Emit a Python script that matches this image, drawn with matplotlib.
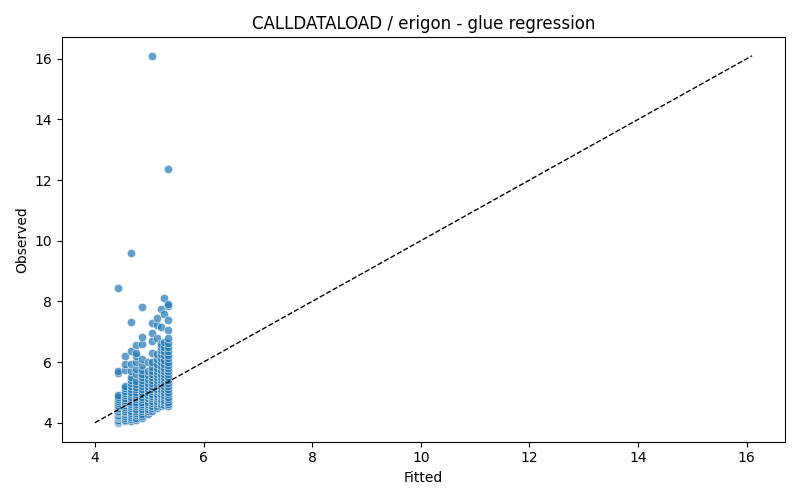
import numpy as np
import matplotlib
matplotlib.use('Agg')
import matplotlib.pyplot as plt

fitted_levels = [4.42, 4.55, 4.66, 4.75, 4.87, 4.97, 5.05, 5.15, 5.22, 5.28, 5.35]
observed_by_level = [
	[3.98, 4.02, 4.06, 4.1, 4.14, 4.18, 4.22, 4.27, 4.31, 4.36, 4.4, 4.45, 4.5, 4.55, 4.6, 4.66, 4.72, 4.78, 4.85, 4.92, 5.65, 5.72, 8.45],
	[4.05, 4.1, 4.16, 4.22, 4.28, 4.34, 4.4, 4.46, 4.52, 4.58, 4.64, 4.7, 4.76, 4.82, 4.9, 4.98, 5.06, 5.14, 5.2, 5.75, 5.95, 6.2],
	[4.05, 4.12, 4.18, 4.25, 4.32, 4.4, 4.47, 4.55, 4.62, 4.7, 4.78, 4.86, 4.94, 5.02, 5.1, 5.2, 5.3, 5.42, 5.5, 5.7, 5.92, 6.35, 7.32, 9.6],
	[4.1, 4.17, 4.24, 4.31, 4.38, 4.46, 4.54, 4.62, 4.7, 4.78, 4.86, 4.94, 5.02, 5.1, 5.18, 5.27, 5.36, 5.6, 5.78, 6.0, 6.2, 6.3, 6.55],
	[4.15, 4.22, 4.3, 4.38, 4.46, 4.54, 4.62, 4.7, 4.78, 4.86, 4.94, 5.02, 5.1, 5.2, 5.3, 5.4, 5.5, 5.62, 5.75, 5.9, 6.1, 6.6, 6.82, 7.8],
	[4.3, 4.38, 4.46, 4.54, 4.62, 4.7, 4.8, 4.9, 5.0, 5.1, 5.2, 5.32, 5.45, 5.58, 5.7, 6.0],
	[4.4, 4.48, 4.56, 4.64, 4.72, 4.8, 4.88, 4.96, 5.04, 5.12, 5.2, 5.3, 5.4, 5.5, 5.6, 5.72, 5.85, 6.0, 6.3, 6.7, 6.95, 7.3, 16.1],
	[4.48, 4.56, 4.64, 4.72, 4.8, 4.88, 4.96, 5.04, 5.12, 5.2, 5.3, 5.4, 5.5, 5.6, 5.7, 5.82, 5.95, 6.1, 6.25, 6.8, 7.22, 7.45],
	[4.55, 4.63, 4.71, 4.79, 4.87, 4.95, 5.03, 5.11, 5.2, 5.3, 5.4, 5.5, 5.62, 5.75, 5.88, 6.0, 6.12, 6.25, 6.4, 6.5, 6.6, 7.15, 7.75],
	[4.6, 4.68, 4.76, 4.84, 4.92, 5.0, 5.1, 5.2, 5.3, 5.4, 5.5, 5.6, 5.7, 5.82, 5.95, 6.08, 6.22, 6.36, 6.5, 6.65, 7.6, 8.1],
	[4.55, 4.62, 4.7, 4.78, 4.86, 4.94, 5.02, 5.1, 5.2, 5.3, 5.4, 5.5, 5.6, 5.7, 5.8, 5.9, 6.0, 6.12, 6.24, 6.36, 6.5, 6.62, 6.8, 7.05, 7.4, 7.85, 7.92, 12.37],
]

fitted = np.concatenate([[f] * len(obs) for f, obs in zip(fitted_levels, observed_by_level)])
observed = np.concatenate(observed_by_level)

fig, ax = plt.subplots(figsize=(8, 5), dpi=100)
ax.scatter(fitted, observed, s=36, color='#1f77b4', alpha=0.7, edgecolors='white', linewidths=0.5)

lo = 4.0
hi = max(fitted.max(), observed.max())
ax.plot([lo, hi], [lo, hi], 'k--', linewidth=1)  # identity line

ax.set_title('CALLDATALOAD / erigon - glue regression')
ax.set_xlabel('Fitted')
ax.set_ylabel('Observed')
fig.tight_layout()
fig.savefig('out.png')
